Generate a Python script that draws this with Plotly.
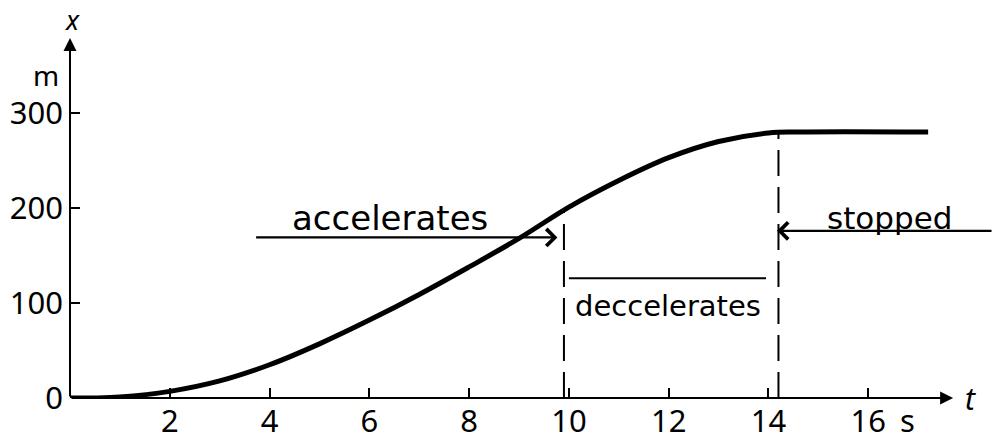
import plotly.graph_objects as go

# ── data ─────────────────────────────────────────────────────
t_vals = [0, 0.5, 1, 2, 3, 4, 5, 6, 7, 8, 9, 10, 11, 12, 13, 14, 14.6, 17.2]
x_vals = [0, 0, 1, 7, 18, 35, 57, 82, 109, 138, 168, 201, 229, 253, 270, 279, 280, 280]

x_ticks = [2, 4, 6, 8, 10, 12, 14, 16]
y_ticks = [0, 100, 200, 300]

t_accel_end, x_accel_end = 9.9, 200
t_stop, x_stop = 14.2, 280

accel_arrow_t = [3.7, 9.77]
accel_arrow_x = 169
stop_arrow_t = [18.5, 14.17]
stop_arrow_x = 176
decel_bar_t = [10.0, 13.95]
decel_bar_x = 126

T_MAX, X_MAX = 18.6, 419

TICK_FONT = dict(family="Noto Sans", size=31, color="black")
HAND = "DejaVu Sans"

fig = go.Figure()

# curve
fig.add_trace(go.Scatter(x=t_vals, y=x_vals, mode="lines",
                         line=dict(color="black", width=5, shape="spline", smoothing=1.0),
                         cliponaxis=False, hoverinfo="skip"))

# dashed guides
for tt, xx in [(t_accel_end, x_accel_end), (t_stop, x_stop)]:
    fig.add_trace(go.Scatter(x=[tt, tt], y=[0, xx], mode="lines",
                             line=dict(color="black", width=2, dash="26px,11px"),
                             hoverinfo="skip"))

# "decelerates" bracket
fig.add_trace(go.Scatter(x=decel_bar_t, y=[decel_bar_x] * 2, mode="lines",
                         line=dict(color="black", width=2), hoverinfo="skip"))

# axis arrows
for tip_t, tip_x in [(17.7, 0), (0, 379)]:
    fig.add_annotation(x=tip_t, y=tip_x, ax=0, ay=0, xref="x", yref="y", axref="x", ayref="y",
                       showarrow=True, arrowhead=2, arrowsize=1.3, arrowwidth=2,
                       arrowcolor="black", text="")

# annotation arrows
for (t0, t1), xx in [(accel_arrow_t, accel_arrow_x), (stop_arrow_t, stop_arrow_x)]:
    fig.add_annotation(x=t1, y=xx, ax=t0, ay=xx, xref="x", yref="y", axref="x", ayref="y",
                       showarrow=True, arrowhead=4, arrowsize=1.5, arrowwidth=2.2,
                       arrowcolor="black", text="")

# texts (positions in data units, converted to paper so the off-axis ones still show)
labels = [
    ("accelerates", 6.41, 190, HAND, 34),
    ("deccelerates", 11.99, 97, HAND, 29),
    ("stopped", 16.43, 190, HAND, 31),
    ("<i>x</i>", 0.05, 398, "Noto Sans", 27),
    ("m", -0.48, 340, "Noto Sans", 28),
    ("<i>t</i>", 18.05, 0, "Noto Sans", 30),
    ("s", 16.78, -23, "Noto Sans", 31),
]
for txt, xx, yy, fam, sz in labels:
    fig.add_annotation(x=xx / T_MAX, y=yy / X_MAX, xref="paper", yref="paper",
                       text=txt, showarrow=False, borderpad=0,
                       font=dict(family=fam, size=sz, color="black"),
                       xanchor="center", yanchor="middle")

fig.update_xaxes(range=[0, T_MAX], tickvals=x_ticks, ticks="inside", ticklen=10,
                 tickwidth=1.5, tickcolor="black", showgrid=False, zeroline=False,
                 showline=False, tickfont=TICK_FONT, ticklabelstandoff=2, automargin=False)
fig.update_yaxes(range=[0, X_MAX], tickvals=y_ticks, ticks="inside", ticklen=10,
                 tickwidth=1.5, tickcolor="black", showgrid=False, zeroline=False,
                 showline=False, tickfont=TICK_FONT, ticklabelstandoff=6, automargin=False)

fig.update_layout(width=999, height=440, showlegend=False,
                  margin=dict(l=70, r=1, t=0, b=42),
                  plot_bgcolor="white", paper_bgcolor="white")

# drop the page's default body margin so the figure fills the window
fig.write_html("out.html", config={"displayModeBar": False},
               post_script="document.body.style.margin='0';document.body.style.overflow='hidden';")
